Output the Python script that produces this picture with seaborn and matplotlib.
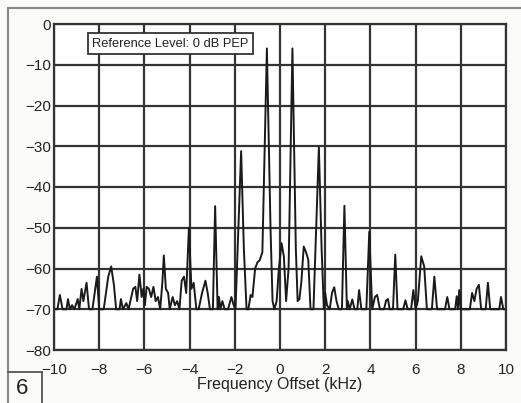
import matplotlib
matplotlib.use('Agg')

import matplotlib.pyplot as plt
from matplotlib.lines import Line2D
import seaborn as sns
import pandas as pd
import numpy as np

sns.set_style("white")
plt.rcParams['font.family'] = ['Liberation Sans', 'DejaVu Sans']

# spectrum trace (kHz, dB)
freq_khz = [-10.0, -9.85, -9.74, -9.62, -9.45, -9.38, -9.3, -9.2, -9.1, -8.95,
            -8.88, -8.78, -8.7, -8.56, -8.45, -8.3, -8.1, -8.0, -7.8, -7.6,
            -7.47, -7.35, -7.25, -7.1, -7.04, -6.95, -6.8, -6.7, -6.5, -6.4,
            -6.32, -6.22, -6.12, -6.05, -5.98, -5.9, -5.8, -5.7, -5.6, -5.5,
            -5.4, -5.3, -5.2, -5.14, -5.05, -4.95, -4.88, -4.75, -4.65, -4.55,
            -4.45, -4.35, -4.25, -4.15, -4.03, -3.92, -3.82, -3.7, -3.6, -3.45,
            -3.3, -3.2, -3.1, -2.97, -2.87, -2.76, -2.7, -2.64, -2.55, -2.45,
            -2.3, -2.15, -2.05, -1.97, -1.84, -1.72, -1.6, -1.48, -1.4, -1.3,
            -1.22, -1.1, -1.0, -0.9, -0.78, -0.58, -0.42, -0.33, -0.25, -0.15,
            -0.05, 0.07, 0.17, 0.27, 0.38, 0.55, 0.7, 0.78, 0.86, 0.95,
            1.05, 1.15, 1.25, 1.35, 1.48, 1.6, 1.72, 1.84, 1.94, 2.0,
            2.08, 2.2, 2.3, 2.4, 2.5, 2.6, 2.74, 2.85, 2.96, 3.0,
            3.08, 3.2, 3.3, 3.42, 3.5, 3.6, 3.82, 3.95, 4.08, 4.2,
            4.3, 4.42, 4.6, 4.7, 4.78, 4.85, 5.0, 5.1, 5.2, 5.45,
            5.55, 5.65, 5.8, 5.9, 6.0, 6.1, 6.25, 6.38, 6.5, 6.72,
            6.83, 6.95, 7.3, 7.4, 7.5, 7.75, 7.82, 7.88, 7.93, 8.0,
            8.4, 8.5, 8.6, 8.7, 8.8, 8.9, 9.1, 9.2, 9.3, 9.7,
            9.78, 9.88, 10.0]
level_db = [-70, -70, -66.5, -70, -70, -67.5, -70, -69, -70, -67.5,
            -70, -65, -68, -63.5, -70, -70, -62, -70, -70, -62,
            -59.5, -64, -70, -70, -67.5, -70, -68.5, -70, -65, -64.5,
            -68, -61.5, -67, -65, -69, -64.5, -65, -67, -64.5, -68,
            -67, -70, -63, -56.8, -65, -66, -70, -67, -69, -68,
            -70, -63, -62, -66, -50, -65, -63.5, -70, -70, -66,
            -63, -66, -70, -70, -44.7, -70, -67, -70, -68, -70,
            -70, -67, -69, -70, -50, -31.2, -55, -70, -70, -66.5,
            -67, -60, -58.5, -58, -56, -6, -50, -68, -70, -68,
            -60, -53.8, -57, -68, -60, -6, -55, -68, -67.5, -63,
            -54.6, -56, -57.8, -70, -70, -50, -30.3, -55, -70, -66,
            -69, -70, -66, -64.6, -68, -70, -70, -44.6, -70, -68,
            -70, -67.6, -70, -70, -65.3, -70, -70, -51, -70, -67,
            -66.5, -70, -70, -67.8, -67.5, -70, -70, -56.6, -70, -70,
            -67.8, -70, -70, -65.3, -70, -68, -57, -59.5, -70, -70,
            -62, -70, -70, -67, -70, -70, -66.8, -70, -65.3, -70,
            -70, -66, -68, -65, -64, -70, -70, -63.5, -70, -70,
            -67, -70, -70]

x_ticks = [-10, -8, -6, -4, -2, 0, 2, 4, 6, 8, 10]
y_ticks = [0, -10, -20, -30, -40, -50, -60, -70, -80]

df = pd.DataFrame({'freq': freq_khz, 'level': level_db})

fig = plt.figure(figsize=(5.21, 4.03), dpi=100)
fig.patch.set_facecolor('#fbfbfa')
ax = fig.add_axes([54/521, 1-350/403, 452/521, 326/403])
ax.set_facecolor('white')

sns.lineplot(data=df, x='freq', y='level', ax=ax, color='#1a1a1a',
             linewidth=1.4, sort=False, estimator=None)

ax.set_xlim(-10, 10)
ax.set_ylim(-80, 0)
ax.set_xticks(x_ticks)
ax.set_yticks(y_ticks)
ax.set_xticklabels([str(t).replace('-', '\u2212') for t in x_ticks])
ax.set_yticklabels([str(t).replace('-', '\u2212') for t in y_ticks])
ax.grid(True, color='#333333', linewidth=1.6)
ax.set_axisbelow(True)
for s in ax.spines.values():
    s.set_color('#333333')
    s.set_linewidth(1.6)
ax.tick_params(axis='both', length=0, labelsize=11, colors='#222222')
ax.tick_params(axis='x', pad=9)
ax.tick_params(axis='y', pad=2)
ax.set_xlabel('Frequency Offset (kHz)', fontsize=11.5, color='#222222', labelpad=0)
ax.set_ylabel('')

ax.text(-8.3, -4.8, 'Reference Level: 0 dB PEP', fontsize=9.3, color='#222222',
        va='center', ha='left',
        bbox=dict(boxstyle='square,pad=0.35', facecolor='white',
                  edgecolor='#333333', linewidth=1.3))

# scan frame and figure number box
W, H = 521.0, 403.0
def fl(xs, ys, **kw):
    fig.add_artist(Line2D([x/W for x in xs], [1-y/H for y in ys],
                          transform=fig.transFigure, **kw))
fl([8, 521], [8, 8], color='#888888', linewidth=1.5)
fl([8, 8], [8, 403], color='#888888', linewidth=1.5)
fl([8, 42], [372, 372], color='#555555', linewidth=1.3)
fl([42, 42], [372, 403], color='#555555', linewidth=1.3)
fig.text(22/W, 1-389/H, '6', fontsize=16, color='#222222', ha='center', va='center')

fig.savefig('out.png', dpi=100, facecolor=fig.get_facecolor())
